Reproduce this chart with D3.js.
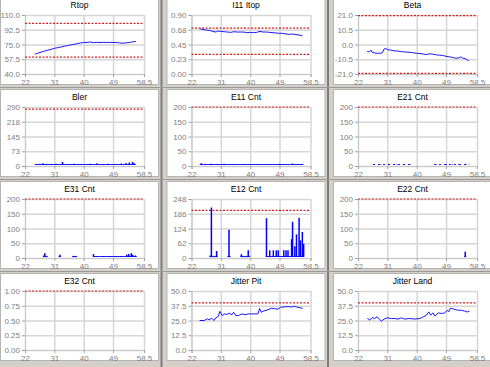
<!DOCTYPE html>
<html>
<head>
<meta charset="utf-8">
<script src="https://cdn.jsdelivr.net/npm/d3@7/dist/d3.min.js"></script>
<style>
  body { margin: 0; background: #d4d0c8; }
  svg { display: block; font-family: "Liberation Sans", Arial, sans-serif; }
</style>
</head>
<body>
<svg id="chart" width="490" height="367"></svg>
<script>
// shared x axis
const xTicks = [22, 31, 40, 49, 58.5];

// Rtop
const rtopX = [25, 26, 27, 28, 29, 30, 31, 32, 33, 34, 35, 36, 37, 38, 39, 40, 41, 42, 43, 44, 45, 46, 47, 48, 49, 50, 51, 52, 53, 54, 55, 56];
const rtopY = [63.5, 64.8, 66, 67.2, 68.3, 69.3, 70.4, 71.2, 72, 72.9, 73.6, 74.5, 75.2, 76, 76.8, 77.5, 77.4, 78, 77.2, 77.6, 77.3, 77.6, 77.4, 77.5, 77.3, 77.4, 76.9, 76.5, 77, 77.3, 78.2, 78.6];

// I11 Itop
const i11X = [24.5, 25.5, 26.5, 27.5, 28.5, 29.5, 30, 31, 32, 33, 34, 35, 36, 37, 38, 39, 40, 41, 42, 43, 44, 45, 46, 47, 48, 49, 50, 51, 52, 53, 54, 55, 56];
const i11Y = [0.69, 0.68, 0.67, 0.665, 0.65, 0.64, 0.655, 0.65, 0.645, 0.64, 0.635, 0.645, 0.64, 0.64, 0.64, 0.63, 0.635, 0.63, 0.635, 0.65, 0.64, 0.64, 0.635, 0.63, 0.625, 0.62, 0.62, 0.61, 0.605, 0.61, 0.6, 0.595, 0.585];

// Beta
const betaX = [24.8, 25.5, 26, 26.3, 27, 28, 29, 29.5, 30, 30.5, 31, 32, 33, 34, 35, 36, 37, 38, 39, 40, 41, 42, 43, 44, 45, 46, 47, 48, 49, 50, 51, 52, 53, 53.5, 54, 55, 55.5, 56];
const betaY = [-5.0, -5.2, -4.0, -5.5, -6.0, -6.3, -6.2, -5.8, -3.2, -2.8, -3.6, -4.0, -4.5, -4.6, -5.0, -5.2, -5.4, -5.6, -5.9, -6.3, -6.4, -6.8, -7.2, -6.6, -6.9, -7.4, -7.6, -7.8, -8.4, -8.8, -9.2, -9.8, -9.5, -8.8, -9.6, -10.2, -10.8, -11.8];

// Jitter Pit
const pitX = [24.5, 25.9, 26.9, 27.4, 28.2, 28.9, 29.4, 30.2, 30.7, 31.4, 32.2, 32.9, 33.6, 34.4, 34.9, 35.6, 36.4, 37.4, 38.4, 39.4, 40.4, 41.4, 42.4, 42.9, 43.4, 44.2, 45.2, 46.5, 47.5, 48.5, 49.3, 50.4, 51.6, 52.6, 53.6, 54.6, 55.6, 56.1];
const pitY = [25.0, 25.0, 26.4, 25.6, 27.0, 25.0, 27.2, 28.4, 32.8, 29.2, 30.6, 30.1, 31.2, 29.8, 32.0, 29.2, 29.2, 30.6, 29.8, 30.6, 30.6, 30.6, 30.6, 35.2, 32.0, 33.2, 33.8, 35.4, 35.0, 34.6, 36.2, 36.5, 36.8, 36.4, 37.0, 36.2, 35.6, 35.2];

// Jitter Land
const landX = [24.9, 25.6, 26.3, 27.1, 27.9, 28.6, 29.2, 30.0, 31.0, 32.2, 33.3, 34.3, 35.3, 36.3, 37.9, 39.4, 41.0, 42.0, 43.0, 43.7, 44.3, 45.0, 45.6, 46.6, 47.6, 48.6, 49.4, 49.8, 50.4, 51.4, 52.5, 53.7, 54.7, 55.5, 56.2];
const landY = [26.7, 25.3, 27.5, 26.7, 28.1, 25.9, 24.5, 26.2, 27.3, 26.7, 26.7, 26.2, 27.3, 26.2, 26.7, 26.2, 26.7, 28.1, 29.5, 32.3, 29.5, 31.5, 28.7, 31.5, 30.9, 31.5, 33.7, 32.3, 35.5, 34.6, 33.8, 33.6, 33.0, 32.2, 33.0];

// count series: spikes over a zero baseline
const blerX = [25.5, 26.5, 27.5, 28.5, 30, 31.5, 33.5, 35, 37, 39, 42, 44, 46, 47.5, 50, 51.5, 53, 54, 55, 55.5];
const blerY = [4, 6, 8, 5, 4, 6, 15, 5, 6, 4, 6, 8, 5, 6, 5, 7, 10, 12, 15, 8];
const blerSpan = [[25, 56]];

const e11X = [25, 26, 28, 30, 32, 35, 38, 42, 45, 49, 53, 56];
const e11Y = [6, 3, 4, 3, 4, 3, 3, 3, 3, 4, 5, 3];
const e11Span = [[24.5, 56.3]];

const e21X = [27, 29, 31.5, 34, 36, 38, 46, 49, 51, 53, 55];
const e21Y = [3, 2, 3, 2, 3, 2, 2, 3, 2, 3, 4];
const e21Span = [[26.6, 38.4], [45.3, 56.2]];

const e31X = [27.8, 28.1, 32.7, 36.8, 37.4, 43.0, 44, 46, 48, 50, 51.5, 53.2, 53.8, 54.6, 55, 55.8];
const e31Y = [5, 13, 8, 3, 3, 10, 3, 3, 3, 3, 3, 8, 10, 13, 8, 5];
const e31Span = [[27.5, 29], [32.3, 33], [36.5, 38], [43, 56.3]];

const e12X = [27.8, 28.1, 29.7, 33.5, 37.3, 39.4, 45, 46, 47.1, 48, 48.6, 50.3, 51, 51.6, 52.7, 53, 53.7, 54.2, 55.0, 55.4, 56.0, 56.4];
const e12Y = [6, 208, 25, 115, 12, 28, 163, 28, 28, 28, 28, 28, 28, 28, 75, 148, 45, 95, 165, 70, 105, 55];
const e12Span = [[27.5, 30], [33, 34], [37, 40], [44.8, 56.5]];

const e22X = [54.9];
const e22Y = [18];
const e22Span = [[54.6, 55.2]];

// y axes: tick values, tick labels
const rtopTicks = [40, 57.5, 75, 92.5, 110];
const rtopLabels = ["40.0", "57.5", "75.0", "92.5", "110.0"];
const i11Ticks = [0, 0.225, 0.45, 0.675, 0.9];
const i11Labels = ["0.00", "0.23", "0.45", "0.68", "0.90"];
const betaTicks = [-21, -10.5, 0, 10.5, 21];
const betaLabels = ["-21.0", "-10.5", "0.0", "10.5", "21.0"];
const blerTicks = [0, 72.5, 145, 217.5, 290];
const blerLabels = ["0", "73", "145", "218", "290"];
const cntTicks = [0, 50, 100, 150, 200];
const cntLabels = ["0", "50", "100", "150", "200"];
const e12Ticks = [0, 62, 124, 186, 248];
const e12Labels = ["0", "62", "124", "186", "248"];
const e32Ticks = [0, 0.25, 0.5, 0.75, 1];
const e32Labels = ["0.00", "0.25", "0.50", "0.75", "1.00"];
const jitTicks = [0, 12.5, 25, 37.5, 50];
const jitLabels = ["0.0", "12.5", "25.0", "37.5", "50.0"];

const panels = [
  { title: "Rtop", ticks: rtopTicks, labels: rtopLabels, limits: [100, 60], xs: rtopX, ys: rtopY },
  { title: "I11 Itop", ticks: i11Ticks, labels: i11Labels, limits: [0.70, 0.30], xs: i11X, ys: i11Y },
  { title: "Beta", ticks: betaTicks, labels: betaLabels, limits: [20.5, -20.5], xs: betaX, ys: betaY },
  { title: "Bler", ticks: blerTicks, labels: blerLabels, limits: [280], spikes: true, xs: blerX, ys: blerY, span: blerSpan },
  { title: "E11 Cnt", ticks: cntTicks, labels: cntLabels, limits: [200], spikes: true, xs: e11X, ys: e11Y, span: e11Span },
  { title: "E21 Cnt", ticks: cntTicks, labels: cntLabels, limits: [200], spikes: true, xs: e21X, ys: e21Y, span: e21Span, dotted: true },
  { title: "E31 Cnt", ticks: cntTicks, labels: cntLabels, limits: [200], spikes: true, xs: e31X, ys: e31Y, span: e31Span },
  { title: "E12 Cnt", ticks: e12Ticks, labels: e12Labels, limits: [200], spikes: true, xs: e12X, ys: e12Y, span: e12Span },
  { title: "E22 Cnt", ticks: cntTicks, labels: cntLabels, limits: [200], spikes: true, xs: e22X, ys: e22Y, span: e22Span },
  { title: "E32 Cnt", ticks: e32Ticks, labels: e32Labels, limits: [1], spikes: true, xs: [], ys: [], span: [] },
  { title: "Jitter Pit", ticks: jitTicks, labels: jitLabels, limits: [40], xs: pitX, ys: pitY },
  { title: "Jitter Land", ticks: jitTicks, labels: jitLabels, limits: [40], xs: landX, ys: landY }
];

const svg = d3.select('#chart');
const colPitch = 166.5, rowPitch = 92;
const panelW = 158, panelH = 87;
const plotLeft = 24, plotTop = 17, plotW = 119, plotH = 59;

// separators between panels
[161.5, 328].forEach(sx => {
  svg.append('line').attr('x1', sx).attr('x2', sx).attr('y1', 0).attr('y2', 367)
    .attr('stroke', '#7c7c7c').attr('stroke-width', 2);
});
[87.5, 179.5, 271.5].forEach(sy => {
  svg.append('line').attr('x1', 0).attr('x2', 490).attr('y1', sy).attr('y2', sy)
    .attr('stroke', '#9a9a9a').attr('stroke-width', 1);
});

panels.forEach((p, i) => {
  const col = i % 3, row = Math.floor(i / 3);
  const px = col * colPitch + 0.5, py = row * rowPitch - 2.5;

  const g = svg.append('g').attr('transform', `translate(${px},${py})`);
  g.append('rect')
    .attr('width', panelW).attr('height', panelH)
    .attr('fill', '#fff').attr('stroke', '#b4b4b4');

  g.append('text')
    .attr('x', panelW / 2).attr('y', 10.5)
    .attr('text-anchor', 'middle')
    .style('font-size', '8.5px').attr('fill', '#000')
    .text(p.title);

  const x = d3.scaleLinear().domain([22, 58.5]).range([0, plotW]);
  const y = d3.scaleLinear().domain([p.ticks[0], p.ticks[4]]).range([plotH, 0]);

  const plot = g.append('g').attr('transform', `translate(${plotLeft + 0.5},${plotTop + 0.5})`);

  // grid
  plot.append('g').attr('class', 'grid')
    .call(d3.axisLeft(y).tickValues(p.ticks).tickSize(-plotW).tickFormat(''))
    .call(a => a.select('.domain').remove());
  plot.append('g').attr('class', 'grid')
    .attr('transform', `translate(0,${plotH})`)
    .call(d3.axisBottom(x).tickValues(xTicks).tickSize(-plotH).tickFormat(''))
    .call(a => a.select('.domain').remove());
  plot.selectAll('.grid line').attr('stroke', '#d6d6d6').attr('stroke-width', 1.5);

  // axes
  plot.append('g').attr('class', 'ax')
    .call(d3.axisLeft(y).tickValues(p.ticks).tickSize(3).tickPadding(2)
      .tickFormat((d, k) => p.labels[k]));
  plot.append('g').attr('class', 'ax')
    .attr('transform', `translate(0,${plotH})`)
    .call(d3.axisBottom(x).tickValues(xTicks).tickSize(3).tickPadding(2)
      .tickFormat(d => String(d)));
  plot.selectAll('.ax .domain').attr('stroke', '#c8c8c8');
  plot.selectAll('.ax line').attr('stroke', '#a0a0a0');
  plot.selectAll('.ax text').attr('fill', '#808080').style('font-size', '8px')
    .style('font-family', '"Liberation Sans", Arial, sans-serif');

  // limit lines
  p.limits.forEach(v => {
    plot.append('line')
      .attr('x1', 0).attr('x2', plotW)
      .attr('y1', y(v)).attr('y2', y(v))
      .attr('stroke', '#d42020').attr('stroke-width', 1.2)
      .attr('stroke-dasharray', '2,1.5');
  });

  if (p.spikes) {
    p.span.forEach(s => {
      plot.append('line')
        .attr('x1', x(s[0])).attr('x2', x(s[1]))
        .attr('y1', y(0) - 1.5).attr('y2', y(0) - 1.5)
        .attr('stroke', '#2020ff').attr('stroke-width', 1.2)
        .attr('stroke-dasharray', p.dotted ? '2,3' : null);
    });
    plot.selectAll('.spike')
      .data(p.xs.map((v, k) => ({ x: v, y: p.ys[k] })))
      .enter().append('line')
      .attr('x1', d => x(d.x)).attr('x2', d => x(d.x))
      .attr('y1', y(0) - 1).attr('y2', d => y(d.y) - 1)
      .attr('stroke', '#0000ff').attr('stroke-width', 1.5);
  } else {
    const line = d3.line().x(d => x(d[0])).y(d => y(d[1]));
    plot.append('path')
      .datum(p.xs.map((v, k) => [v, p.ys[k]]))
      .attr('d', line)
      .attr('fill', 'none')
      .attr('stroke', '#1818ff').attr('stroke-width', 1);
  }
});
</script>
</body>
</html>
